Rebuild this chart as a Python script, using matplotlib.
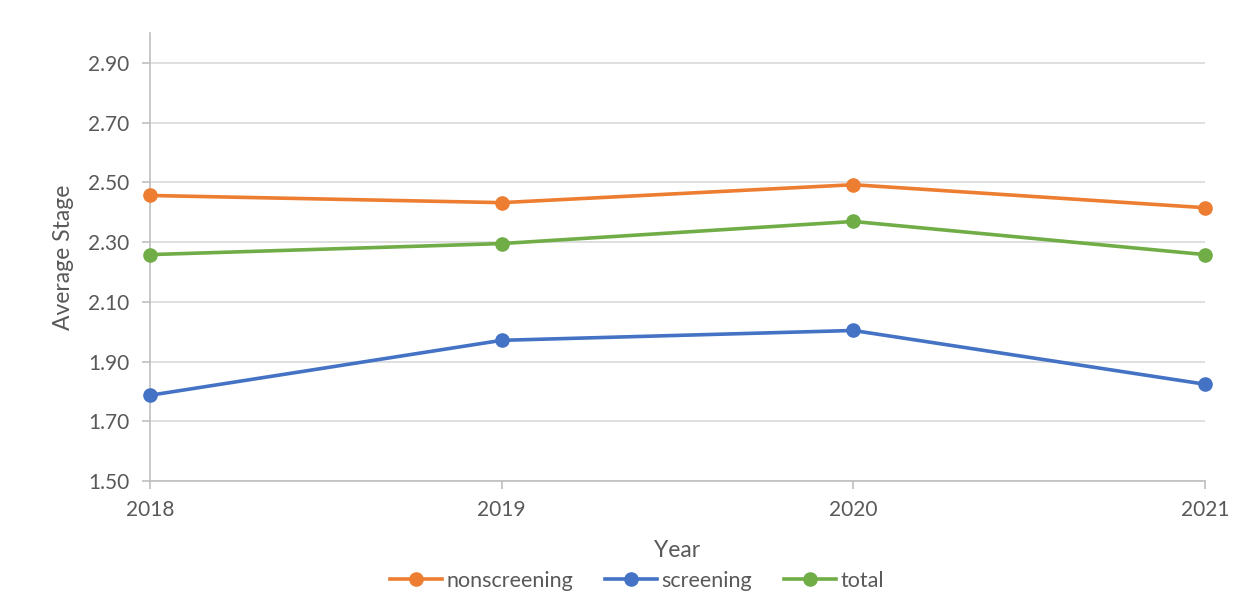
import numpy as np
import matplotlib.pyplot as plt

years = [2018, 2019, 2020, 2021]
nonscreening = [2.456, 2.432, 2.492, 2.415]
screening = [1.787, 1.971, 2.004, 1.824]
total = [2.258, 2.295, 2.369, 2.258]
y_ticks = [1.50, 1.70, 1.90, 2.10, 2.30, 2.50, 2.70, 2.90]

plt.rcParams['font.family'] = ['Lato', 'DejaVu Sans']
grey = '#595959'

fig = plt.figure(figsize=(12.54, 6.14), dpi=100)
ax = fig.add_axes([150/1254, 1 - 481/614, 1055/1254, 448/614])

style = dict(lw=2.6, marker='o', ms=9.5, clip_on=False, zorder=3)
ax.plot(years, nonscreening, color='#ED7D31', label='nonscreening', **style)
ax.plot(years, screening, color='#4472C4', label='screening', **style)
ax.plot(years, total, color='#70AD47', label='total', **style)

ax.set_xlim(2018, 2021)
ax.set_ylim(1.5, 3.0)
ax.set_xticks(years)
ax.set_yticks(y_ticks)
ax.set_yticklabels([f'{t:.2f}' for t in y_ticks])

# horizontal gridlines only
ax.grid(axis='y', color='#D9D9D9', lw=1.2)
ax.set_axisbelow(True)
for s in ['top', 'right']:
    ax.spines[s].set_visible(False)
ax.spines['left'].set_color('#BFBFBF')
ax.spines['bottom'].set_color('#BFBFBF')
ax.spines['left'].set_linewidth(1.2)
ax.spines['bottom'].set_linewidth(1.2)

ax.tick_params(axis='both', colors='#BFBFBF', labelcolor=grey, labelsize=15, length=6, width=1.2)
ax.tick_params(axis='y', pad=9)
ax.tick_params(axis='x', pad=8)

ax.set_xlabel('Year', fontsize=16.5, color=grey, labelpad=14)
ax.set_ylabel('Average Stage', fontsize=16.5, color=grey, labelpad=10)

fig.legend(loc='center', bbox_to_anchor=(637/1254, 1 - 581/614), ncol=3, frameon=False,
           fontsize=15.5, labelcolor=grey, handlelength=2.4, handletextpad=0.2,
           columnspacing=1.5, borderpad=0)

fig.savefig('out.png', dpi=100)
